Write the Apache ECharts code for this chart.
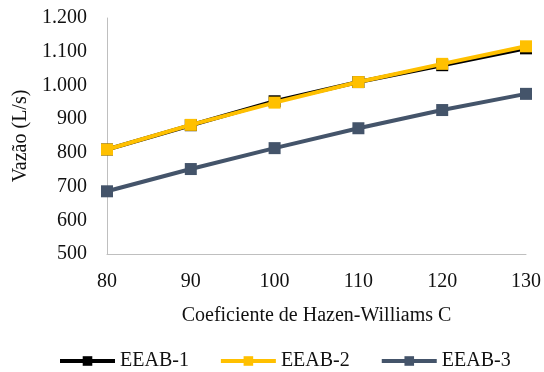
<!DOCTYPE html>
<html>
<head>
<meta charset="utf-8">
<script src="https://cdn.jsdelivr.net/npm/echarts@6/dist/echarts.min.js"></script>
<style>html,body{margin:0;padding:0;background:#fff}#c{width:544px;height:372px}</style>
</head>
<body>
<div id="c"></div>
<script>
const categories = [80, 90, 100, 110, 120, 130];
const eeab1 = [810, 882, 953, 1010, 1060, 1110];
const eeab2 = [810, 883, 949, 1010, 1064, 1116];
const eeab3 = [686, 752, 814, 873, 927, 975];
const seriesNames = ['EEAB-1', 'EEAB-2', 'EEAB-3'];
const seriesColors = ['#000000', '#FFC000', '#44546A'];
const seriesData = [eeab1, eeab2, eeab3];

const font = '"Liberation Serif", "Times New Roman", serif';
const chart = echarts.init(document.getElementById('c'), null, {renderer: 'canvas'});
function fmt(v) {
  return String(v).replace(/\B(?=(\d{3})+(?!\d))/g, '.');
}
chart.setOption({
  animation: false,
  backgroundColor: '#fff',
  textStyle: {fontFamily: font, color: '#111'},
  grid: {left: 107, right: 17, top: 18, bottom: 118},
  legend: {
    data: seriesNames,
    left: 53, top: 346,
    itemWidth: 55, itemHeight: 12, itemGap: 30,
    lineStyle: {width: 4},
    textStyle: {fontFamily: font, fontSize: 20, color: '#111'}
  },
  xAxis: {
    type: 'value', min: 80, max: 130, interval: 10,
    name: 'Coeficiente de Hazen-Williams C', nameLocation: 'middle', nameGap: 52,
    nameTextStyle: {fontFamily: font, fontSize: 20, color: '#111'},
    axisLine: {show: true, lineStyle: {color: '#BFBFBF', width: 1}},
    axisTick: {show: false},
    splitLine: {show: false},
    axisLabel: {fontFamily: font, fontSize: 20, color: '#111', margin: 18}
  },
  yAxis: {
    type: 'value', min: 500, max: 1200, interval: 100,
    name: 'Vazão (L/s)', nameLocation: 'middle', nameGap: 75,
    nameTextStyle: {fontFamily: font, fontSize: 20, color: '#111'},
    axisLine: {show: true, lineStyle: {color: '#BFBFBF', width: 1}},
    axisTick: {show: false},
    splitLine: {show: false},
    axisLabel: {fontFamily: font, fontSize: 20, color: '#111', margin: 20, formatter: fmt}
  },
  series: seriesNames.map((n, i) => ({
    name: n, type: 'line',
    data: categories.map((c, j) => [c, seriesData[i][j]]),
    symbol: 'rect', symbolSize: 12,
    lineStyle: {color: seriesColors[i], width: 4},
    itemStyle: {color: seriesColors[i]},
    z: 2 + i
  }))
});
</script>
</body>
</html>
